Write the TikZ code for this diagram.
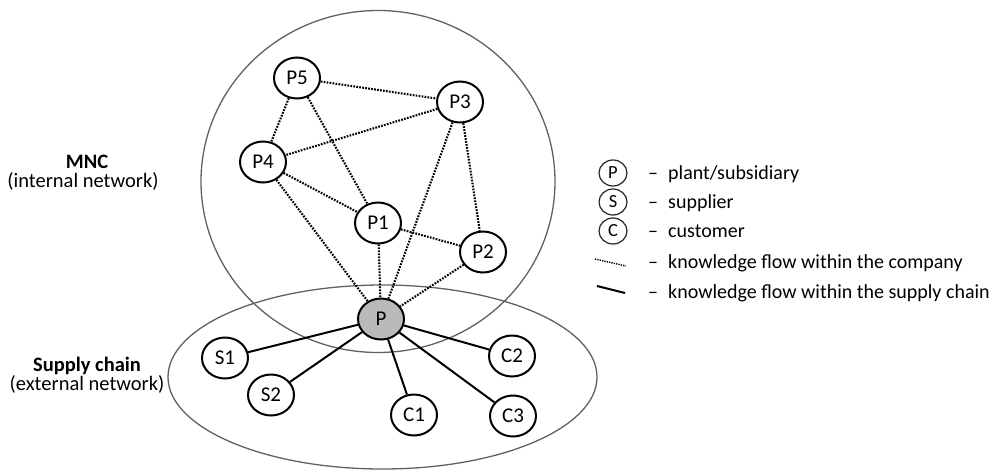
\documentclass[tikz,border=0pt]{standalone}
\usepackage{fontspec}
\setmainfont{Carlito}
\usetikzlibrary{shapes.geometric}
\begin{document}
\begin{tikzpicture}[x=1pt,y=-1pt,
  netnode/.style={ellipse,draw=black,line width=2pt,fill=white,minimum width=46pt,minimum height=41pt,inner sep=0pt,font=\fontsize{21}{25}\selectfont},
  plantnode/.style={netnode,fill=black!27},
  keynode/.style={ellipse,draw=black!85,line width=1.2pt,minimum width=28pt,minimum height=26pt,inner sep=0pt,font=\fontsize{18.5}{21}\selectfont},
  region/.style={draw=black!62,line width=1.3pt},
  dotflow/.style={line width=2.1pt,dash pattern=on 1.7pt off 1.3pt},
  solidflow/.style={line width=2pt},
  lbl/.style={anchor=base,inner sep=0pt,font=\fontsize{20.5}{24}\selectfont},
  keytext/.style={anchor=base west,inner sep=0pt,font=\fontsize{20}{24}\selectfont}]
\useasboundingbox (0,0) rectangle (995,471);
\fill[white] (0,0) rectangle (995,471);

% regions
\draw[region] (378,181.5) ellipse [x radius=177pt, y radius=171pt];
\draw[region] (382.5,377) ellipse [x radius=214.5pt, y radius=92pt];

% nodes
\node[netnode] (P5) at (297,78) {P5};
\node[netnode] (P3) at (460,102) {P3};
\node[netnode] (P4) at (263,162) {P4};
\node[netnode] (P1) at (378,223) {P1};
\node[netnode] (P2) at (483,252) {P2};
\node[plantnode] (P) at (381,319) {P};
\node[netnode] (S1) at (225,358) {S1};
\node[netnode] (S2) at (271,395) {S2};
\node[netnode] (C1) at (414,415) {C1};
\node[netnode] (C2) at (512,356) {C2};
\node[netnode] (C3) at (513,416) {C3};

% knowledge flow within the company
\draw[dotflow] (P5) -- (P3);
\draw[dotflow] (P5) -- (P4);
\draw[dotflow] (P5) -- (P1);
\draw[dotflow] (P3) -- (P4);
\draw[dotflow] (P3) -- (P2);
\draw[dotflow] (P3) -- (P);
\draw[dotflow] (P4) -- (P1);
\draw[dotflow] (P4) -- (P);
\draw[dotflow] (P1) -- (P2);
\draw[dotflow] (P1) -- (P);
\draw[dotflow] (P2) -- (P);

% knowledge flow within the supply chain
\draw[solidflow] (P) -- (S1);
\draw[solidflow] (P) -- (S2);
\draw[solidflow] (P) -- (C1);
\draw[solidflow] (P) -- (C2);
\draw[solidflow] (P) -- (C3);

% side labels
\node[lbl,font=\fontsize{20.5}{24}\selectfont\bfseries] (mnc) at (87,168) {MNC};
\node[lbl] (mncsub) at (83,187) {(internal network)};
\node[lbl,font=\fontsize{20.5}{24}\selectfont\bfseries] (sc) at (87,371) {Supply chain};
\node[lbl] (scsub) at (87,390) {(external network)};

% legend
\node[keynode] (kP) at (613,173) {P};
\node[keynode] (kS) at (613,202) {S};
\node[keynode] (kC) at (613,231) {C};
\coordinate (kd1) at (595,259);
\coordinate (kd2) at (626,266);
\coordinate (ks1) at (597,286);
\coordinate (ks2) at (625,293);
\draw[line width=1.4pt,dash pattern=on 1.3pt off 1.1pt] (kd1) -- (kd2);
\draw[line width=2pt] (ks1) -- (ks2);
\node[keytext] (tP) at (648,179) {\makebox[20pt][l]{–}plant/subsidiary};
\node[keytext] (tS) at (648,208) {\makebox[20pt][l]{–}supplier};
\node[keytext] (tC) at (648,237) {\makebox[20pt][l]{–}customer};
\node[keytext] (tD) at (648,268) {\makebox[20pt][l]{–}knowledge flow within the company};
\node[keytext] (tL) at (648,298) {\makebox[20pt][l]{–}knowledge flow within the supply chain};
\end{tikzpicture}
\end{document}
